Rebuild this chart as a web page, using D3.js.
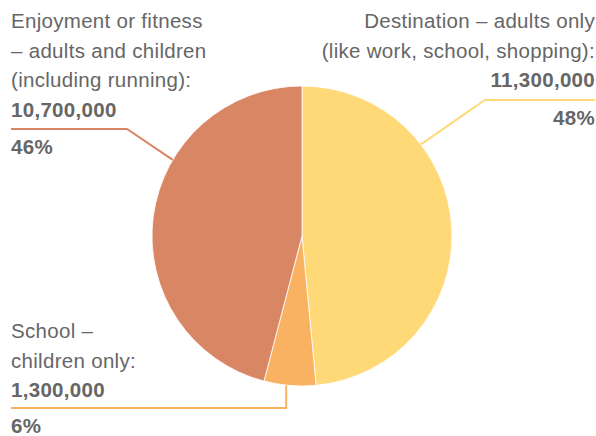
<!DOCTYPE html>
<meta charset="utf-8">
<style>
  body { margin: 0; background: #fff; }
  svg text { font-family: "Liberation Sans", Arial, Helvetica, sans-serif; fill: #666; font-size: 20.5px; letter-spacing: 0.3px; }
  .val { font-weight: bold; }
  .leader { fill: none; stroke-width: 2px; }
</style>
<script src="https://d3js.org/d3.v7.min.js"></script>
<body>
<div id="chart"></div>
<script>

  // data
  var categories = ["Destination", "School", "Enjoyment"];
  var labelLines = [
    ["Destination \u2013 adults only", "(like work, school, shopping):"],
    ["School \u2013", "children only:"],
    ["Enjoyment or fitness", "\u2013 adults and children", "(including running):"]
  ];
  var values = [11300000, 1300000, 10700000];
  var percents = ["48%", "6%", "46%"];
  var colors = ["#FFD977", "#F9B262", "#D98665"];

  var width = 596, height = 436;
  var cx = 302, cy = 236, radius = 150;

  var svg = d3.select("#chart").append("svg")
    .attr("width", width)
    .attr("height", height);

  var pie = d3.pie().sort(null).value(function(d) { return d; });
  var arcs = pie(values);
  var arc = d3.arc().innerRadius(0).outerRadius(radius);

  var g = svg.append("g").attr("transform", "translate(" + cx + "," + cy + ")");

  g.selectAll("path")
    .data(arcs)
    .enter().append("path")
      .attr("d", arc)
      .attr("fill", function(d, i) { return colors[i]; })
      .attr("stroke", "#fff")
      .attr("stroke-width", 0.8);

  // label layout: where the leader leaves the slice and where the text goes
  var layout = [
    {frac: 0.30, elbow: [485, 100], end: [595, 100], anchor: "end", x: 595, top: 28},
    {frac: 0.57, elbow: null, elbowY: 408, end: [11, 408], anchor: "start", x: 11, top: 338},
    {frac: 0.64, elbow: [127, 129], end: [11, 129], anchor: "start", x: 11, top: 28}
  ];
  var lineH = 29.5;

  function edgePoint(d, frac) {
    var a = d.startAngle + (d.endAngle - d.startAngle) * frac;
    return [cx + radius * Math.sin(a), cy - radius * Math.cos(a)];
  }

  arcs.forEach(function(d, i) {
    var L = layout[i];
    var p0 = edgePoint(d, L.frac);
    var p1 = L.elbow ? L.elbow : [p0[0], L.elbowY];
    svg.append("path")
      .attr("class", "leader")
      .attr("stroke", colors[i])
      .attr("d", d3.line()([p0, p1, L.end]));

    var t = svg.append("g");
    var lines = labelLines[i];
    lines.forEach(function(s, j) {
      t.append("text")
        .attr("x", L.x)
        .attr("y", L.top + j * lineH)
        .attr("text-anchor", L.anchor)
        .text(s);
    });
    t.append("text")
      .attr("class", "val")
      .attr("x", L.x)
      .attr("y", L.top + lines.length * lineH)
      .attr("text-anchor", L.anchor)
      .text(d3.format(",")(values[i]));
    t.append("text")
      .attr("class", "val")
      .attr("x", L.x)
      .attr("y", L.end[1] + 25)
      .attr("text-anchor", L.anchor)
      .text(percents[i]);
  });

</script>
</body>
